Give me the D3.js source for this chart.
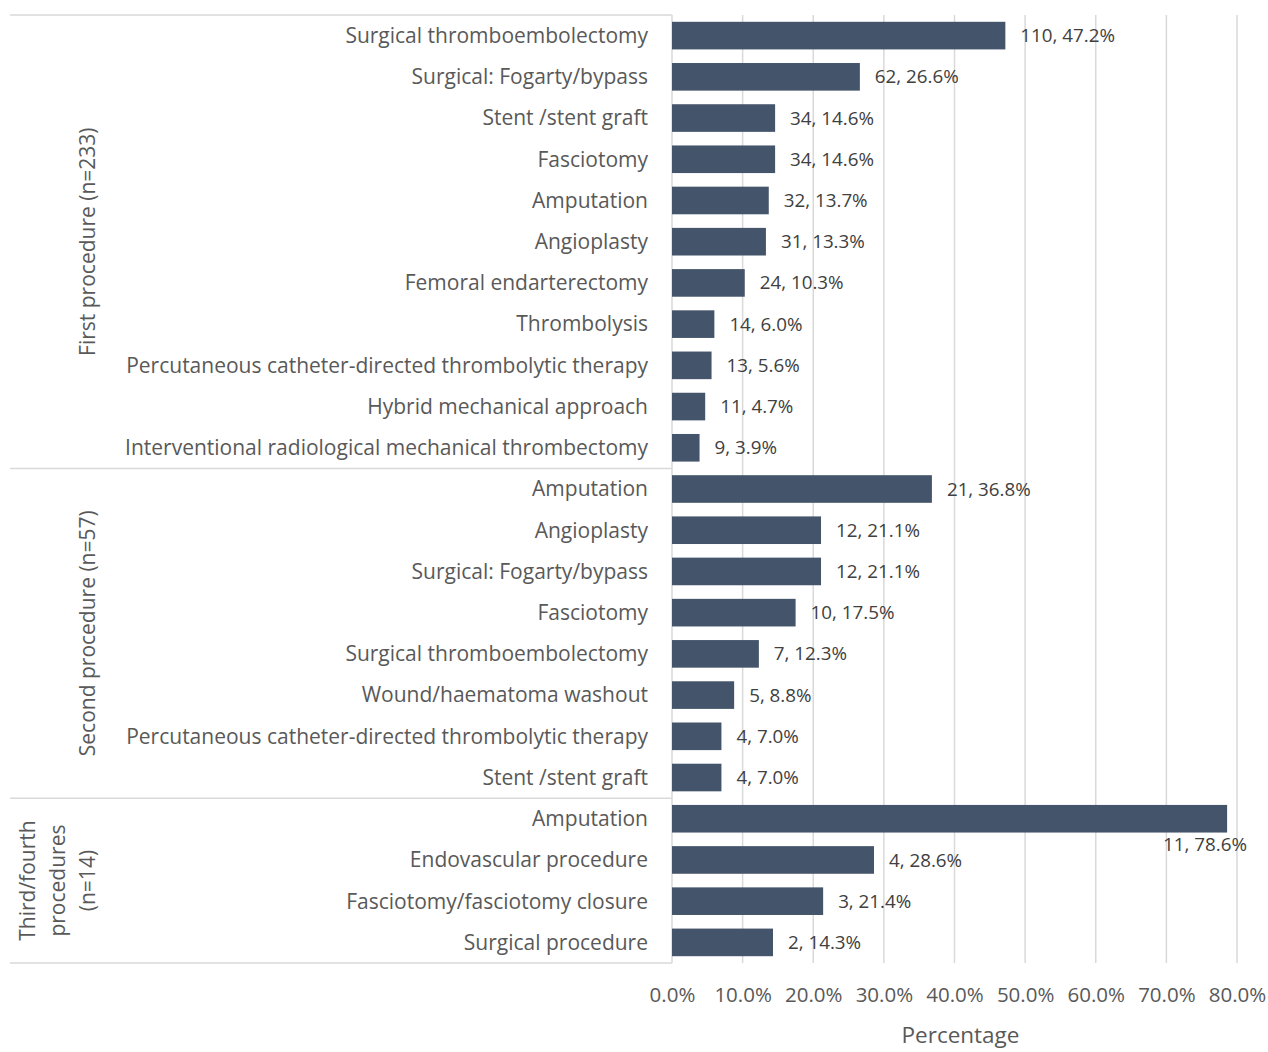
<!DOCTYPE html>
<html>
<head>
<meta charset="utf-8">
<script src="https://cdn.jsdelivr.net/npm/d3@7"></script>
<style>
  html, body { margin: 0; padding: 0; background: #fff; }
  svg { display: block; }
  text { font-family: "Open Sans", "Noto Sans", sans-serif; }
</style>
</head>
<body>
<svg id="chart" width="1268" height="1052"></svg>
<script>
// ---- data ----
const groups = ["First procedure (n=233)", "Second procedure (n=57)", "Third/fourth procedures (n=14)"];
const groupLabelLines = [["First procedure (n=233)"], ["Second procedure (n=57)"], ["Third/fourth", "procedures", "(n=14)"]];

const group1Categories = ["Surgical thromboembolectomy", "Surgical: Fogarty/bypass", "Stent /stent graft", "Fasciotomy", "Amputation", "Angioplasty", "Femoral endarterectomy", "Thrombolysis", "Percutaneous catheter-directed thrombolytic therapy", "Hybrid mechanical approach", "Interventional radiological mechanical thrombectomy"];
const group1Counts = [110, 62, 34, 34, 32, 31, 24, 14, 13, 11, 9];
const group1Percent = [47.2, 26.6, 14.6, 14.6, 13.7, 13.3, 10.3, 6.0, 5.6, 4.7, 3.9];

const group2Categories = ["Amputation", "Angioplasty", "Surgical: Fogarty/bypass", "Fasciotomy", "Surgical thromboembolectomy", "Wound/haematoma washout", "Percutaneous catheter-directed thrombolytic therapy", "Stent /stent graft"];
const group2Counts = [21, 12, 12, 10, 7, 5, 4, 4];
const group2Percent = [36.8, 21.1, 21.1, 17.5, 12.3, 8.8, 7.0, 7.0];

const group3Categories = ["Amputation", "Endovascular procedure", "Fasciotomy/fasciotomy closure", "Surgical procedure"];
const group3Counts = [11, 4, 3, 2];
const group3Percent = [78.6, 28.6, 21.4, 14.3];

const xTicks = [0, 10, 20, 30, 40, 50, 60, 70, 80];
const xTitle = "Percentage";

// ---- build rows ----
const rows = [];
[[group1Categories, group1Counts, group1Percent],
 [group2Categories, group2Counts, group2Percent],
 [group3Categories, group3Counts, group3Percent]].forEach(([cats, counts, pcts], g) => {
  cats.forEach((c, i) => rows.push({ id: g + "-" + i, group: g, cat: c, n: counts[i], pct: pcts[i] }));
});

const svg = d3.select("#chart");
const plotLeft = 672, plotRight = 1237, plotTop = 15, plotBottom = 963;

const x = d3.scaleLinear().domain([0, 80]).range([plotLeft, plotRight]);
const y = d3.scaleBand().domain(rows.map(d => d.id)).range([plotTop, plotBottom]).paddingInner(0.33).paddingOuter(0.165);

const textColor = "#595959";

// gridlines
svg.append("g").selectAll("line").data(xTicks.filter(t => t > 0)).join("line")
  .attr("x1", d => x(d)).attr("x2", d => x(d))
  .attr("y1", plotTop).attr("y2", plotBottom)
  .attr("stroke", "#d9d9d9").attr("stroke-width", 1.5);

// category axis frame: vertical line at plot left
svg.append("line").attr("x1", plotLeft).attr("x2", plotLeft).attr("y1", plotTop).attr("y2", plotBottom)
  .attr("stroke", "#d9d9d9").attr("stroke-width", 1.5);

// group separators
const groupBounds = [];
groups.forEach((g, gi) => {
  const gr = rows.filter(r => r.group === gi);
  const top = y(gr[0].id) - y.step() * y.paddingInner() / 2;
  const bottom = y(gr[gr.length - 1].id) + y.bandwidth() + y.step() * y.paddingInner() / 2;
  groupBounds.push([gi === 0 ? plotTop : top, gi === groups.length - 1 ? plotBottom : bottom]);
});
const sepYs = [plotTop].concat(groupBounds.map(b => b[1]));
svg.append("g").selectAll("line").data(sepYs).join("line")
  .attr("x1", 10).attr("x2", plotLeft)
  .attr("y1", d => d).attr("y2", d => d)
  .attr("stroke", "#d9d9d9").attr("stroke-width", 1.5);

// bars
svg.append("g").selectAll("rect").data(rows).join("rect")
  .attr("x", x(0)).attr("y", d => y(d.id))
  .attr("width", d => x(d.pct) - x(0)).attr("height", y.bandwidth())
  .attr("fill", "#44546a");

// category labels
svg.append("g").selectAll("text").data(rows).join("text")
  .attr("x", 648).attr("y", d => y(d.id) + y.bandwidth() / 2)
  .attr("dy", "0.35em").attr("text-anchor", "end")
  .attr("font-size", 21).attr("fill", textColor)
  .text(d => d.cat);

// data labels
svg.append("g").selectAll("text").data(rows).join("text")
  .each(function (d) {
    const t = d3.select(this);
    const label = d.n + ", " + d.pct.toFixed(1) + "%";
    if (x(d.pct) + 100 > 1268) {
      t.attr("x", 1247).attr("y", y(d.id) + y.bandwidth() + 12).attr("dy", "0.35em").attr("text-anchor", "end");
    } else {
      t.attr("x", x(d.pct) + 15).attr("y", y(d.id) + y.bandwidth() / 2).attr("dy", "0.35em").attr("text-anchor", "start");
    }
    t.text(label);
  })
  .attr("font-size", 18.8).attr("fill", "#404040");

// group labels (rotated)
groupLabelLines.forEach((lines, gi) => {
  const cy = (groupBounds[gi][0] + groupBounds[gi][1]) / 2;
  const baseX = lines.length === 1 ? 88 : 58;
  const lh = 30;
  lines.forEach((ln, li) => {
    const cx = baseX + (li - (lines.length - 1) / 2) * lh;
    svg.append("text")
      .attr("transform", `translate(${cx},${cy}) rotate(-90)`)
      .attr("text-anchor", "middle").attr("dy", "0.35em")
      .attr("font-size", 21).attr("fill", textColor)
      .text(ln);
  });
});

// x axis tick labels
const xAxis = d3.axisBottom(x).tickValues(xTicks).tickSize(0).tickPadding(0)
  .tickFormat(d => d.toFixed(1) + "%");
const gx = svg.append("g").attr("transform", `translate(0, 995)`).call(xAxis);
gx.select(".domain").remove();
gx.selectAll("text").attr("font-size", 20.5).attr("fill", textColor)
  .attr("font-family", '"Open Sans", "Noto Sans", sans-serif').attr("dy", "0.35em").attr("y", 0);

// x title
svg.append("text").attr("x", (plotLeft + plotRight) / 2 + 6).attr("y", 1035).attr("dy", "0.35em")
  .attr("text-anchor", "middle").attr("font-size", 22.5).attr("fill", textColor).text(xTitle);
</script>
</body>
</html>
